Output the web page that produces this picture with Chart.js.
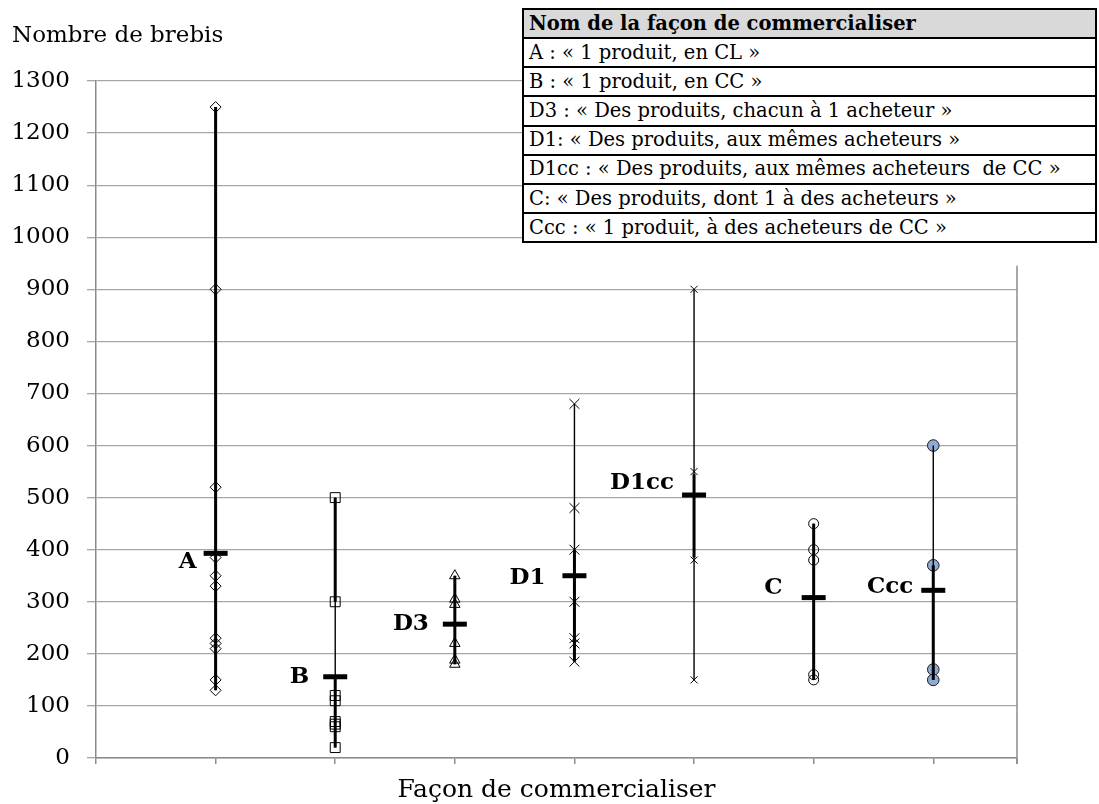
<!DOCTYPE html>
<html><head><meta charset="utf-8">
<script src="https://cdn.jsdelivr.net/npm/chart.js@4.4.0/dist/chart.umd.min.js"></script>
<style>
html,body{margin:0;padding:0;background:#fff;}
#wrap{position:relative;width:1099px;height:804px;overflow:hidden;}
#c{position:absolute;left:0;top:0;}
#legend{position:absolute;left:522px;top:8px;width:575px;height:235px;border-collapse:collapse;table-layout:fixed;font-family:'DejaVu Serif',serif;font-size:19.5px;background:#fff;color:#000;}
#legend td{border:2px solid #000;padding:0 0 0 5px;white-space:nowrap;line-height:1;overflow:hidden;}
#legend tr.h td{background:#d9d9d9;font-weight:bold;}
</style>
</head><body>
<div id="wrap">
<canvas id="c" width="1099" height="804"></canvas>
<table id="legend">
<tr class="h"><td>Nom de la façon de commercialiser</td></tr>
<tr><td>A : « 1 produit, en CL »</td></tr>
<tr><td>B : « 1 produit, en CC »</td></tr>
<tr><td>D3 : « Des produits, chacun à 1 acheteur »</td></tr>
<tr><td>D1: « Des produits, aux mêmes acheteurs »</td></tr>
<tr><td>D1cc : « Des produits, aux mêmes acheteurs &nbsp;de CC »</td></tr>
<tr><td>C: « Des produits, dont 1 à des acheteurs »</td></tr>
<tr><td>Ccc : « 1 produit, à des acheteurs de CC »</td></tr>
</table>
</div>
<script>
// ---- data ----
const categories = ['A','B','D3','D1','D1cc','C','Ccc'];
const valuesA    = [1250, 900, 520, 385, 350, 330, 230, 220, 210, 150, 130];
const valuesB    = [500, 300, 120, 110, 70, 65, 60, 20];
const valuesD3   = [350, 305, 295, 220, 188, 180];
const valuesD1   = [680, 480, 400, 300, 230, 220, 185];
const valuesD1cc = [900, 550, 380, 150];
const valuesC    = [450, 400, 380, 160, 150];
const valuesCcc  = [600, 370, 170, 150];
const means      = [393, 156, 257, 350, 505, 308, 322];
const thickRanges = [[[130,1250]], [[300,500],[20,156]], [[180,350]], [[185,400]], [[385,545]], [[150,450]], [[150,370]]];
const yMin = 0, yMax = 1300, yStep = 100;
const xTitle = 'Façon de commercialiser';
const yTitle = 'Nombre de brebis';

// ---- styles ----
const allValues = [valuesA, valuesB, valuesD3, valuesD1, valuesD1cc, valuesC, valuesCcc];
const markerStyles = [
  {pointStyle:'rectRot', radius:5.5, bg:'rgba(0,0,0,0)', border:'#000'},
  {pointStyle:'rect', radius:7, bg:'rgba(0,0,0,0)', border:'#000'},
  {pointStyle:'triangle', radius:6, bg:'rgba(0,0,0,0)', border:'#000'},
  {pointStyle:'crossRot', radius:7, bg:'rgba(0,0,0,0)', border:'#000'},
  {pointStyle:'crossRot', radius:5, bg:'rgba(0,0,0,0)', border:'#000'},
  {pointStyle:'circle', radius:5, bg:'rgba(0,0,0,0)', border:'#000'},
  {pointStyle:'circle', radius:5.8, bg:'#8eaad6', border:'#1a1a1a'}
];
const labelDx = [-19, -26, -26, -29, -20, -31, -20];
const labelDy = [9, 0, 0, 2, -12, -10, -3];
const serif = "'DejaVu Serif', serif";

const datasets = [];
categories.forEach((cat, i) => {
  const x = i + 1;
  const vals = allValues[i];
  const lo = Math.min(...vals), hi = Math.max(...vals);
  datasets.push({label: cat + ' range', data: [{x, y: lo}, {x, y: hi}], showLine: true,
    borderColor: '#000', borderWidth: 1.4, pointRadius: 0, order: 2});
  thickRanges[i].forEach(r => {
    datasets.push({label: cat + ' thick', data: [{x, y: r[0]}, {x, y: r[1]}], showLine: true,
      borderColor: '#000', borderWidth: 3, pointRadius: 0, order: 2});
  });
  const m = markerStyles[i];
  datasets.push({label: cat, data: vals.map(v => ({x, y: v})), showLine: false,
    pointStyle: m.pointStyle, pointRadius: m.radius, pointBackgroundColor: m.bg,
    pointBorderColor: m.border, pointBorderWidth: 1, order: 3});
});
datasets.push({label: 'moyenne', data: means.map((v, i) => ({x: i + 1, y: v})), showLine: false,
  pointStyle: 'line', pointRadius: 12, pointBorderColor: '#000', pointBorderWidth: 5, order: 1});

const decor = {
  id: 'decor',
  afterDatasetsDraw(chart) {
    const {ctx, scales: {x, y}, chartArea} = chart;
    ctx.save();
    ctx.strokeStyle = '#8c8c8c'; ctx.lineWidth = 1.5;
    ctx.beginPath();
    ctx.moveTo(chartArea.right, y.getPixelForValue(945));
    ctx.lineTo(chartArea.right, chartArea.bottom + 6);
    ctx.stroke();
    ctx.fillStyle = '#000';
    ctx.font = "bold 23px " + serif;
    ctx.textAlign = 'right'; ctx.textBaseline = 'middle';
    categories.forEach((cat, i) => {
      ctx.fillText(cat, x.getPixelForValue(i + 1) + labelDx[i], y.getPixelForValue(means[i]) + labelDy[i]);
    });
    ctx.font = "23px " + serif;
    ctx.textAlign = 'left';
    ctx.fillText(yTitle, 12, 36);
    ctx.font = "25px " + serif;
    ctx.textAlign = 'center';
    ctx.fillText(xTitle, (chartArea.left + chartArea.right) / 2, 790);
    ctx.restore();
  }
};

new Chart(document.getElementById('c'), {
  type: 'scatter',
  data: {datasets},
  options: {
    responsive: false, animation: false, devicePixelRatio: 1, events: [],
    layout: {padding: {top: 81, right: 82, left: 0, bottom: 0}},
    plugins: {legend: {display: false}, tooltip: {enabled: false}},
    scales: {
      x: {
        type: 'linear', min: 0, max: 7.7,
        afterBuildTicks(s) { s.ticks = [0,1,2,3,4,5,6,7,7.7].map(v => ({value: v})); },
        afterFit(s) { s.height = 46; },
        ticks: {display: false},
        grid: {drawOnChartArea: false, drawTicks: true, tickLength: 6, color: '#8c8c8c', lineWidth: 1.5},
        border: {display: true, color: '#8c8c8c', width: 1.5}
      },
      y: {
        min: yMin, max: yMax,
        afterFit(s) { s.width = 96; },
        ticks: {stepSize: yStep, color: '#000', padding: 17, font: {family: serif, size: 23},
          callback: v => String(v)},
        grid: {color: '#a6a6a6', lineWidth: 1.3, tickLength: 9},
        border: {display: true, color: '#8c8c8c', width: 1.5}
      }
    }
  },
  plugins: [decor]
});
</script>
</body></html>
